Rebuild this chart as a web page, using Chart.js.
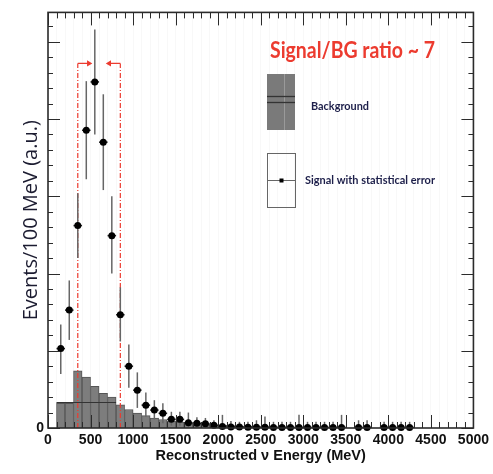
<!DOCTYPE html>
<html>
<head>
<meta charset="utf-8">
<script src="https://cdn.jsdelivr.net/npm/chart.js@4.4.1/dist/chart.umd.min.js"></script>
<style>
  html, body { margin: 0; padding: 0; background: #fff; }
  #wrap { width: 493px; height: 474px; }
</style>
</head>
<body>
<div id="wrap"><canvas id="c" width="493" height="474"></canvas></div>
<script>
// background histogram, 100 MeV bins (centres) and heights in a.u.
const bgCenters = [150, 250, 350, 450, 550, 650, 750, 850, 950, 1050, 1150, 1250, 1350, 1450, 1550,
  1650, 1750, 1850, 1950, 2050, 2150, 2250, 2350, 2450, 2550, 2650, 2750, 2850, 2950];
const bgValues = [1.6, 1.6, 3.7, 3.3, 2.7, 2.25, 2.0, 1.5, 1.2, 0.97, 0.8, 0.65, 0.55, 0.45, 0.38,
  0.32, 0.27, 0.23, 0.2, 0.17, 0.15, 0.13, 0.11, 0.1, 0.08, 0.07, 0.06, 0.05, 0.04];

// lower background component (outline only)
const bgCompX = [100, 800];
const bgCompY = [1.65, 1.65];

// signal with statistical error
const sigX = [150, 250, 350, 450, 550, 650, 750, 850, 950, 1050, 1150, 1250, 1350, 1450, 1550,
  1650, 1750, 1850, 1950, 2050, 2150, 2250, 2350, 2450, 2550, 2650, 2750, 2850, 2950, 3050,
  3150, 3250, 3350, 3450, 3650, 3750, 3950, 4050, 4150, 4250];
const sigY = [5.14, 7.63, 13.1, 19.27, 22.4, 18.5, 12.45, 7.33, 4.0, 2.45, 1.48, 1.16, 0.95, 0.56, 0.56,
  0.34, 0.3, 0.28, 0.17, 0.1, 0.07, 0.06, 0.05, 0.05, 0.05, 0.04, 0.04, 0.04, 0.04, 0.04,
  0.04, 0.04, 0.04, 0.04, 0.04, 0.04, 0.04, 0.04, 0.04, 0.04];
const sigLow = [3.5, 5.7, 11.0, 16.1, 19.0, 15.4, 10.0, 5.6, 2.6, 1.3, 0.73, 0.55, 0.3, 0.15, 0.15,
  0.05, 0.05, 0.05, 0, 0, 0, 0, 0, 0, 0, 0, 0, 0, 0, 0,
  0, 0, 0, 0, 0, 0, 0, 0, 0, 0];
const sigHigh = [6.7, 9.55, 15.2, 22.45, 25.8, 21.6, 15.0, 9.1, 5.4, 3.6, 2.3, 1.8, 1.6, 1.05, 1.05,
  1.0, 0.7, 0.65, 0.5, 0.85, 0.45, 0.4, 0.4, 0.5, 0.75, 0.4, 0.4, 0.4, 0.85, 0.4,
  0.4, 0.4, 0.4, 0.85, 0.5, 0.5, 0.4, 0.4, 0.4, 0.4];
const sigXErr = 50;

// energy window marked in red
const windowEdges = [350, 850];
const windowLevel = 23.6;
const windowArrow = 130;

const xTickValues = [0, 500, 1000, 1500, 2000, 2500, 3000, 3500, 4000, 4500, 5000];
const xTickLabels = ['0', '500', '1000', '1500', '2000', '2500', '3000', '3500', '4000', '4500', '5000'];
const xMinorStep = 100, xMajorStep = 500;
const yMinorStep = 1, yMajorStep = 5, yMax = 26.9;

const RED = '#ec3b2f';

// error bars, drawn just before the signal markers
const errorBars = {
  id: 'errorBars',
  beforeDatasetDraw(chart, args) {
    if (chart.data.datasets[args.index].label !== 'Signal') return;
    const {ctx, scales: {x, y}} = chart;
    ctx.save();
    ctx.lineWidth = 1.5;
    sigX.forEach((v, i) => {
      const px = x.getPixelForValue(v);
      ctx.strokeStyle = '#666';
      ctx.beginPath();
      ctx.moveTo(px, y.getPixelForValue(sigLow[i]));
      ctx.lineTo(px, y.getPixelForValue(sigHigh[i]));
      ctx.stroke();
      ctx.strokeStyle = '#222';
      const py = y.getPixelForValue(sigY[i]);
      ctx.beginPath();
      ctx.moveTo(x.getPixelForValue(v - sigXErr), py);
      ctx.lineTo(x.getPixelForValue(v + sigXErr), py);
      ctx.stroke();
    });
    ctx.restore();
  }
};

// ROOT-like frame with inward ticks on all four sides
const frameTicks = {
  id: 'frameTicks',
  afterDraw(chart) {
    const {ctx, chartArea: a, scales: {x, y}} = chart;
    ctx.save();
    ctx.strokeStyle = '#2b2b2b';
    ctx.lineWidth = 1;
    const seg = (x1, y1, x2, y2) => { ctx.beginPath(); ctx.moveTo(x1, y1); ctx.lineTo(x2, y2); ctx.stroke(); };
    for (let v = x.min; v <= x.max; v += xMinorStep) {
      const px = Math.round(x.getPixelForValue(v)) + 0.5;
      const len = v % xMajorStep === 0 ? 13 : 6;
      seg(px, a.bottom, px, a.bottom - len);
      seg(px, a.top, px, a.top + len);
    }
    for (let v = 0; v <= y.max; v += yMinorStep) {
      const py = Math.round(y.getPixelForValue(v)) + 0.5;
      const len = v % yMajorStep === 0 ? 12 : 5;
      seg(a.left, py, a.left + len, py);
      seg(a.right, py, a.right - len, py);
    }
    ctx.lineWidth = 1.6;
    ctx.strokeRect(a.left, a.top, a.right - a.left, a.bottom - a.top);

    // y axis title
    ctx.fillStyle = '#1b1b30';
    ctx.font = '20px "Open Sans"';
    ctx.textAlign = 'center';
    ctx.textBaseline = 'middle';
    ctx.translate(31, (a.top + a.bottom) / 2);
    ctx.rotate(-Math.PI / 2);
    ctx.fillText('Events/100 MeV (a.u.)', 0, 0, 264);
    ctx.restore();
  }
};

// ratio note and hand-made legend
const notes = {
  id: 'notes',
  afterDraw(chart) {
    const {ctx} = chart;
    ctx.save();
    ctx.fillStyle = RED;
    ctx.font = 'bold 22px Lato';
    ctx.textBaseline = 'alphabetic';
    ctx.fillText('Signal/BG ratio ~ 7', 270, 58, 165);

    // background swatch
    ctx.fillStyle = '#7a7a7a';
    ctx.fillRect(267, 74, 28, 56);
    ctx.strokeStyle = '#9a9a9a';
    ctx.lineWidth = 1;
    ctx.beginPath(); ctx.moveTo(284.5, 74); ctx.lineTo(284.5, 130); ctx.stroke();
    ctx.strokeStyle = '#333';
    ctx.lineWidth = 1.3;
    ctx.beginPath(); ctx.moveTo(267, 96.5); ctx.lineTo(295, 96.5); ctx.stroke();
    ctx.beginPath(); ctx.moveTo(267, 102.5); ctx.lineTo(295, 102.5); ctx.stroke();

    // signal swatch
    ctx.strokeStyle = '#666';
    ctx.lineWidth = 1;
    ctx.strokeRect(267.5, 153.5, 28, 54);
    ctx.beginPath(); ctx.moveTo(267.5, 180.5); ctx.lineTo(295.5, 180.5); ctx.stroke();
    ctx.fillStyle = '#000';
    ctx.fillRect(279.5, 178.5, 4, 4);

    ctx.fillStyle = '#1d1f4a';
    ctx.font = 'bold 12px Lato';
    ctx.textBaseline = 'middle';
    ctx.fillText('Background', 311, 106, 58);
    ctx.fillText('Signal with statistical error', 305, 180, 130);
    ctx.restore();
  }
};

const bgData = bgCenters.map((c, i) => ({x: c, y: bgValues[i]}));
const sigData = sigX.map((c, i) => ({x: c, y: sigY[i]}));
const windowSets = windowEdges.flatMap((e, k) => {
  const dir = k === 0 ? 1 : -1;
  return [
    {
      type: 'line', label: 'window' + k, order: 1,
      data: [{x: e, y: 0}, {x: e, y: windowLevel}],
      borderColor: RED, borderWidth: 1.2, borderDash: [5, 2, 1, 2],
      pointRadius: 0, clip: false
    },
    {
      type: 'line', label: 'arrow' + k, order: 1,
      data: [{x: e, y: windowLevel}, {x: e + dir * windowArrow, y: windowLevel}],
      borderColor: RED, backgroundColor: RED, borderWidth: 1.3,
      pointStyle: 'triangle', pointRadius: [0, 3.5], pointRotation: dir * 90,
      pointBorderWidth: 0
    }
  ];
});

new Chart(document.getElementById('c'), {
  type: 'bar',
  data: {
    datasets: [
      {
        type: 'bar', label: 'Background', order: 3,
        data: bgData,
        backgroundColor: '#7d7d7d', borderColor: '#555',
        borderWidth: {top: 1, left: 1, right: 1, bottom: 0},
        barPercentage: 1, categoryPercentage: 1
      },
      {
        type: 'line', label: 'bgComp', order: 2,
        data: bgCompX.map((v, i) => ({x: v, y: bgCompY[i]})),
        borderColor: '#333', borderWidth: 1, pointRadius: 0
      },
      ...windowSets,
      {
        type: 'line', label: 'Signal', order: 0,
        data: sigData, showLine: false,
        pointStyle: 'circle', pointRadius: 3.5,
        pointBackgroundColor: '#000', pointBorderColor: '#000', pointBorderWidth: 0,
        clip: false
      }
    ]
  },
  options: {
    responsive: false,
    devicePixelRatio: 1,
    animation: false,
    layout: {padding: {top: 11, right: 18, left: 0, bottom: 0}},
    plugins: {legend: {display: false}, tooltip: {enabled: false}},
    scales: {
      x: {
        type: 'linear', min: 0, max: 5000, offset: false,
        grid: {color: '#f8f8f8', drawTicks: false, offset: false},
        border: {display: false},
        ticks: {
          stepSize: xMinorStep, autoSkip: false, maxRotation: 0, padding: 4,
          color: '#111', font: {family: 'Liberation Sans', size: 14, weight: 'bold'},
          callback: v => { const i = xTickValues.indexOf(v); return i < 0 ? '' : xTickLabels[i]; }
        },
        title: {
          display: true, text: 'Reconstructed \u03bd Energy (MeV)', color: '#111',
          font: {family: 'Liberation Sans', size: 14.5, weight: 'bold'},
          padding: {top: 0, bottom: 9}
        },
        afterFit: s => { s.height = 46; }
      },
      y: {
        type: 'linear', min: 0, max: yMax,
        grid: {display: false, drawTicks: false},
        border: {display: false},
        ticks: {
          stepSize: yMinorStep, autoSkip: false, padding: 4,
          color: '#111', font: {family: 'Liberation Sans', size: 14, weight: 'bold'},
          callback: v => v === 0 ? '0' : ''
        },
        afterFit: s => { s.width = 48; }
      }
    }
  },
  plugins: [errorBars, frameTicks, notes]
});
</script>
</body>
</html>
